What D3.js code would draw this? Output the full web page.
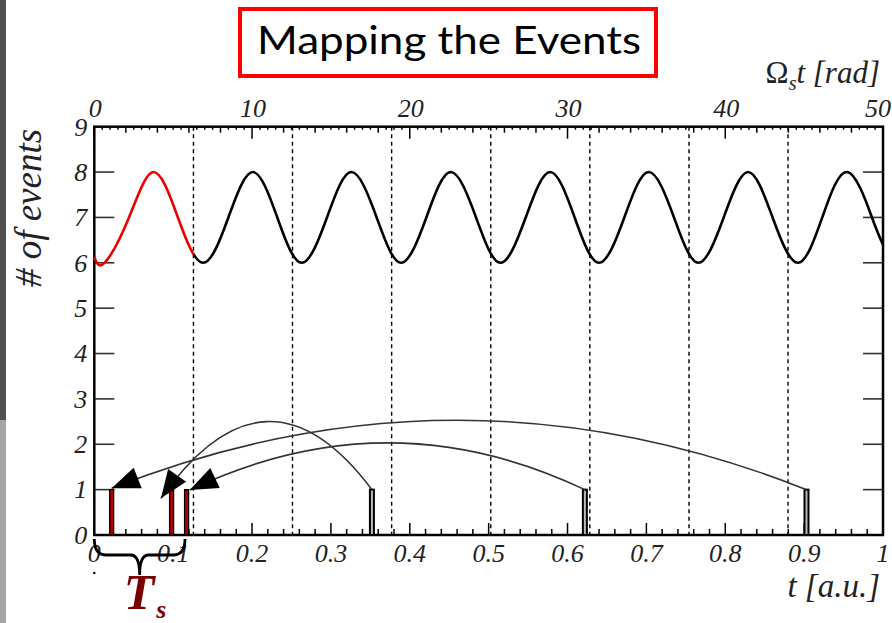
<!DOCTYPE html>
<html>
<head>
<meta charset="utf-8">
<script src="https://cdn.jsdelivr.net/npm/d3@7"></script>
<style>
body { margin: 0; background: #fff; }
</style>
</head>
<body>
<div id="chart"></div>
<script>
var width = 892, height = 623;

// count curve at quarter periods
var countT = [0, 0.013, 0.044, 0.075, 0.106, 0.138, 0.170, 0.201, 0.232, 0.263,
	0.295, 0.326, 0.358, 0.389, 0.421, 0.452, 0.484, 0.515, 0.547, 0.578,
	0.609, 0.640, 0.672, 0.703, 0.735, 0.766, 0.798, 0.829, 0.860, 0.892,
	0.923, 0.955, 0.986, 1.0];
var countN = [6.13, 6.0, 7.0, 8.0, 7.0, 6.0, 7.0, 8.0, 7.0, 6.0,
	7.0, 8.0, 7.0, 6.0, 7.0, 8.0, 7.0, 6.0, 7.0, 8.0,
	7.0, 6.0, 7.0, 8.0, 7.0, 6.0, 7.0, 8.0, 7.0, 6.0,
	7.0, 8.0, 7.0, 6.4];

// events and where they land inside the first period
var eventT = [0.352, 0.622, 0.903];
var eventN = [1, 1, 1];
var mappedT = [0.098, 0.117, 0.022];
var arcPeakN = [2.5, 2.03, 2.53];
var arrowTipT = [0.0845, 0.121, 0.022];
var arrowTipN = [0.81, 0.99, 1.03];

// period boundaries (dashed); the first one is T_s
var dashT = [0.1257, 0.2513, 0.377, 0.5027, 0.6283, 0.754, 0.8796];

var yTicks = [0, 1, 2, 3, 4, 5, 6, 7, 8, 9];
var tTicks = [0, 0.1, 0.2, 0.3, 0.4, 0.5, 0.6, 0.7, 0.8, 0.9, 1];
var tLabels = ["0", "0.1", "0.2", "0.3", "0.4", "0.5", "0.6", "0.7", "0.8", "0.9", "1"];
var radTicks = [0, 10, 20, 30, 40, 50];

var braceEndT = 0.115;

var pLeft = 94.3, pRight = 883, pTop = 126.7, pBottom = 535;

var x = d3.scaleLinear().domain([0, 1]).range([pLeft, pRight]);
var xRad = d3.scaleLinear().domain([0, 50]).range([pLeft, pRight]);
var y = d3.scaleLinear().domain([0, 9]).range([pBottom, pTop]);

var serif = "'Liberation Serif', 'DejaVu Serif', serif";

var svg = d3.select('#chart').append('svg')
	.attr('width', width)
	.attr('height', height)
	.style('background-color', 'white');

var defs = svg.append('defs');

// slide edge strip
svg.append('rect').attr('x', 0).attr('y', 0).attr('width', 6).attr('height', 420).style('fill', '#4f4f4f');
svg.append('rect').attr('x', 0).attr('y', 420).attr('width', 6).attr('height', 203).style('fill', '#a6a6a6');

// title box
svg.append('rect')
	.attr('x', 240).attr('y', 9).attr('width', 416).attr('height', 67)
	.style('fill', 'white').style('stroke', '#ff0000').style('stroke-width', 4);
svg.append('text')
	.attr('x', 257).attr('y', 54)
	.attr('textLength', 384).attr('lengthAdjust', 'spacingAndGlyphs')
	.style('font-family', "Lato, 'Open Sans', sans-serif")
	.style('font-size', '39px')
	.style('fill', 'black')
	.text('Mapping the Events');

// dashed period lines
svg.selectAll('line.dash')
	.data(dashT)
	.enter().append('line')
	.attr('class', 'dash')
	.attr('x1', function(d) { return x(d); })
	.attr('x2', function(d) { return x(d); })
	.attr('y1', y(9)).attr('y2', y(0))
	.style('stroke', 'black').style('stroke-width', 1.4)
	.style('stroke-dasharray', '4,3.5');

// ticks: bottom (t), every 0.02, long every 0.1
var tMinor = d3.range(0, 51).map(function(i) { return i / 50; });
svg.selectAll('line.tb')
	.data(tMinor)
	.enter().append('line')
	.attr('class', 'tb')
	.attr('x1', function(d) { return x(d); })
	.attr('x2', function(d) { return x(d); })
	.attr('y1', y(0))
	.attr('y2', function(d, i) { return y(0) - (i % 5 == 0 ? 12 : 6); })
	.style('stroke', 'black').style('stroke-width', 1.5);

// ticks: top (rad), every 0.5, medium every 2, long every 10
var radMinor = d3.range(0, 101).map(function(i) { return i / 2; });
svg.selectAll('line.tt')
	.data(radMinor)
	.enter().append('line')
	.attr('class', 'tt')
	.attr('x1', function(d) { return xRad(d); })
	.attr('x2', function(d) { return xRad(d); })
	.attr('y1', y(9))
	.attr('y2', function(d, i) {
		if (i % 20 == 0) return y(9) + 12;
		if (i % 4 == 0) return y(9) + 6;
		return y(9) + 3;
	})
	.style('stroke', 'black').style('stroke-width', 1.5);

// ticks: left and right
svg.selectAll('line.yl')
	.data(yTicks.slice(1, 9))
	.enter().append('line')
	.attr('class', 'yl')
	.attr('x1', pLeft).attr('x2', pLeft + 20)
	.attr('y1', function(d) { return y(d); })
	.attr('y2', function(d) { return y(d); })
	.style('stroke', '#333').style('stroke-width', 1.6);
svg.selectAll('line.yr')
	.data(yTicks.slice(1, 9))
	.enter().append('line')
	.attr('class', 'yr')
	.attr('x1', pRight).attr('x2', pRight - 20)
	.attr('y1', function(d) { return y(d); })
	.attr('y2', function(d) { return y(d); })
	.style('stroke', '#333').style('stroke-width', 1.6);

// frame
svg.append('rect')
	.attr('x', pLeft).attr('y', pTop)
	.attr('width', pRight - pLeft).attr('height', pBottom - pTop)
	.style('fill', 'none').style('stroke', 'black').style('stroke-width', 2.5);

// tick labels
svg.selectAll('text.yl')
	.data(yTicks)
	.enter().append('text')
	.attr('class', 'yl')
	.attr('x', pLeft - 7)
	.attr('y', function(d) { return y(d); })
	.attr('dy', '0.34em')
	.attr('text-anchor', 'end')
	.style('font-family', serif).style('font-style', 'italic').style('font-size', '26px')
	.style('fill', '#222')
	.text(function(d) { return d; });

svg.selectAll('text.tb')
	.data(tTicks)
	.enter().append('text')
	.attr('class', 'tb')
	.attr('x', function(d) { return x(d); })
	.attr('y', 562)
	.attr('text-anchor', 'middle')
	.style('font-family', serif).style('font-style', 'italic').style('font-size', '26px')
	.style('fill', '#222')
	.text(function(d, i) { return tLabels[i]; });

svg.selectAll('text.tt')
	.data(radTicks)
	.enter().append('text')
	.attr('class', 'tt')
	.attr('x', function(d, i) { return i == radTicks.length - 1 ? 891 : xRad(d) + 1; })
	.attr('y', 117)
	.attr('text-anchor', function(d, i) { return i == radTicks.length - 1 ? 'end' : 'middle'; })
	.style('font-family', serif).style('font-style', 'italic').style('font-size', '26px')
	.style('fill', '#222')
	.text(function(d) { return d; });

// axis titles
svg.append('text')
	.attr('transform', 'translate(41,208) rotate(-90)')
	.attr('text-anchor', 'middle')
	.style('font-family', serif).style('font-style', 'italic').style('font-size', '37px')
	.style('fill', '#222')
	.text('# of events');

var radTitle = svg.append('text')
	.attr('x', 880).attr('y', 83)
	.attr('text-anchor', 'end')
	.style('font-family', serif).style('font-style', 'italic').style('font-size', '31px')
	.style('fill', '#222');
radTitle.append('tspan').style('font-style', 'normal').text('Ω');
radTitle.append('tspan').attr('dy', 7).style('font-size', '20px').text('s');
radTitle.append('tspan').attr('dy', -7).text('t [rad]');

svg.append('text')
	.attr('x', 880).attr('y', 597)
	.attr('text-anchor', 'end')
	.style('font-family', serif).style('font-style', 'italic').style('font-size', '33px')
	.style('fill', '#222')
	.text('t [a.u.]');

// count curve: red inside the first period, black after it
defs.append('clipPath').attr('id', 'firstPeriod')
	.append('rect')
	.attr('x', x(0) - 5).attr('y', y(9))
	.attr('width', x(dashT[0]) - x(0) + 5).attr('height', y(0) - y(9));
defs.append('clipPath').attr('id', 'laterPeriods')
	.append('rect')
	.attr('x', x(dashT[0])).attr('y', y(9))
	.attr('width', x(1) - x(dashT[0]) + 5).attr('height', y(0) - y(9));

var line = d3.line()
	.x(function(d) { return x(d[0]); })
	.y(function(d) { return y(d[1]); })
	.curve(d3.curveNatural);

var countData = countT.map(function(t, i) { return [t, countN[i]]; });

svg.append('path')
	.datum(countData)
	.attr('d', line)
	.attr('clip-path', 'url(#laterPeriods)')
	.style('fill', 'none').style('stroke', 'black').style('stroke-width', 2.6);
svg.append('path')
	.datum(countData)
	.attr('d', line)
	.attr('clip-path', 'url(#firstPeriod)')
	.style('fill', 'none').style('stroke', '#ee0000').style('stroke-width', 2.6);

// event bars
var barW = 4;
svg.selectAll('rect.ev')
	.data(eventT)
	.enter().append('rect')
	.attr('class', 'ev')
	.attr('x', function(d) { return x(d) - barW / 2; })
	.attr('y', function(d, i) { return y(eventN[i]); })
	.attr('width', barW)
	.attr('height', function(d, i) { return y(0) - y(eventN[i]); })
	.style('fill', '#bbb').style('stroke', 'black').style('stroke-width', 2);

svg.selectAll('rect.mp')
	.data(mappedT)
	.enter().append('rect')
	.attr('class', 'mp')
	.attr('x', function(d) { return x(d) - barW / 2; })
	.attr('y', function(d, i) { return y(eventN[i]); })
	.attr('width', barW)
	.attr('height', function(d, i) { return y(0) - y(eventN[i]); })
	.style('fill', '#b00000').style('stroke', 'black').style('stroke-width', 1.3);

// arrow arcs
defs.append('marker')
	.attr('id', 'head')
	.attr('markerUnits', 'userSpaceOnUse')
	.attr('viewBox', '-30 -12 32 24')
	.attr('refX', 0).attr('refY', 0)
	.attr('markerWidth', 32).attr('markerHeight', 24)
	.attr('orient', 'auto')
	.append('path')
	.attr('d', 'M0,0 L-28,-11 L-28,11 Z')
	.style('fill', 'black');

svg.selectAll('path.arc')
	.data(eventT)
	.enter().append('path')
	.attr('class', 'arc')
	.attr('d', function(d, i) {
		var x0 = x(d), y0 = y(eventN[i]);
		var x1 = x(arrowTipT[i]), y1 = y(arrowTipN[i]);
		var cx = (x0 + x1) / 2;
		var cy = 2 * y(arcPeakN[i]) - (y0 + y1) / 2;
		return 'M' + x0 + ',' + y0 + ' Q' + cx + ',' + cy + ' ' + x1 + ',' + y1;
	})
	.attr('marker-end', 'url(#head)')
	.style('fill', 'none').style('stroke', '#333').style('stroke-width', 1.6);

// brace under the first period
var bx0 = x(0), bx1 = x(braceEndT), bm = (bx0 + bx1) / 2;
var by0 = 539, by1 = 555, by2 = 575;
svg.append('path')
	.attr('d', 'M' + bx0 + ',' + by0 +
		' Q' + bx0 + ',' + by1 + ' ' + (bx0 + 12) + ',' + by1 +
		' L' + (bm - 9) + ',' + by1 +
		' Q' + bm + ',' + by1 + ' ' + bm + ',' + by2 +
		' Q' + bm + ',' + by1 + ' ' + (bm + 9) + ',' + by1 +
		' L' + (bx1 - 12) + ',' + by1 +
		' Q' + bx1 + ',' + by1 + ' ' + bx1 + ',' + by0)
	.style('fill', 'none').style('stroke', 'black').style('stroke-width', 2.8);
svg.append('circle').attr('cx', bx0).attr('cy', 573).attr('r', 1.2).style('fill', 'black');

var ts = svg.append('text')
	.attr('x', bm - 16).attr('y', 609)
	.style('font-family', serif).style('font-style', 'italic').style('font-weight', 'bold')
	.style('font-size', '50px')
	.style('fill', '#7a0000');
ts.append('tspan').text('T');
ts.append('tspan').attr('dy', 9).attr('dx', 2).style('font-size', '26px').text('s');
</script>
</body>
</html>
